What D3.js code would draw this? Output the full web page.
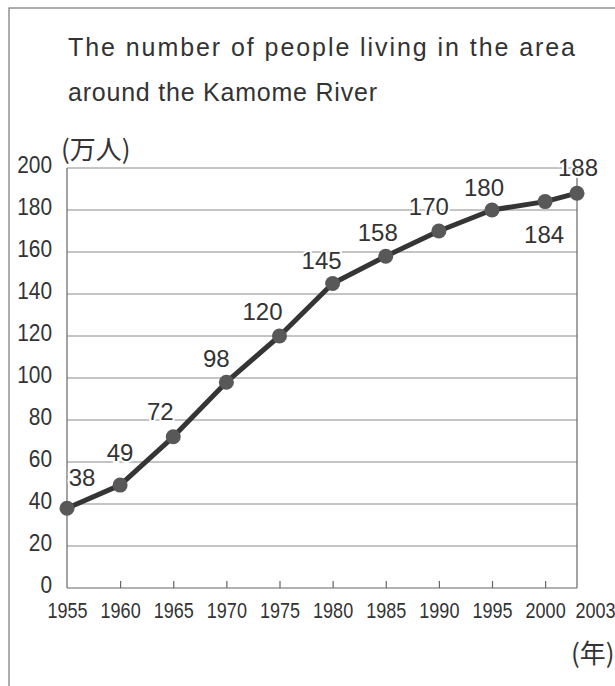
<!DOCTYPE html>
<html>
<head>
<meta charset="utf-8">
<script src="https://cdn.jsdelivr.net/npm/d3@7"></script>
<style>
  body { margin: 0; background: #fff; }
  svg { display: block; }
  text { fill: #333; font-family: "Liberation Sans", Arial, sans-serif; }
</style>
</head>
<body>
<svg class="main" width="615" height="686"></svg>
<script>
'use strict';

// data
var years = [1955, 1960, 1965, 1970, 1975, 1980, 1985, 1990, 1995, 2000, 2003];
var population = [38, 49, 72, 98, 120, 145, 158, 170, 180, 184, 188];
var yTicks = [0, 20, 40, 60, 80, 100, 120, 140, 160, 180, 200];
var titleLines = ['The number of people living in the area', 'around the Kamome River'];

// layout bits
var titleWidths = [507, 309];
var labelShift = [[15, -31], [0, -33], [-13, -25], [-10, -24], [-17, -25], [-11, -23],
                  [-8, -24], [-10, -25], [-8, -23], [-1, 33], [1, -26]];

var svg = d3.select('svg.main');

var x = d3.scaleLinear().domain([1955, 2003]).range([67, 577]);
var y = d3.scaleLinear().domain([0, 200]).range([588, 168]);

// outer frame
svg.append('rect')
    .attr('x', 9).attr('y', 8)
    .attr('width', 620).attr('height', 700)
    .attr('fill', 'none')
    .attr('stroke', '#777')
    .attr('stroke-width', 1.2);

// title
svg.selectAll('.title')
    .data(titleLines)
    .enter()
    .append('text')
    .attr('class', 'title')
    .attr('x', 68)
    .attr('y', function (d, i) { return 56 + i * 45; })
    .attr('textLength', function (d, i) { return titleWidths[i]; })
    .attr('lengthAdjust', 'spacing')
    .style('font-size', '25px')
    .text(function (d) { return d; });

// gridlines
svg.append('g')
    .selectAll('line')
    .data(yTicks.slice(1))
    .enter()
    .append('line')
    .attr('x1', x(1955)).attr('x2', x(2003))
    .attr('y1', function (d) { return y(d); })
    .attr('y2', function (d) { return y(d); })
    .attr('stroke', '#8a8a8a')
    .attr('stroke-width', 1);

// plot edges
[[1955, 1955, 200, 0], [2003, 2003, 200, 0], [1955, 2003, 0, 0]].forEach(function (e) {
    svg.append('line')
        .attr('x1', x(e[0])).attr('x2', x(e[1]))
        .attr('y1', y(e[2])).attr('y2', y(e[3]))
        .attr('stroke', '#666').attr('stroke-width', 1.2);
});

// x axis: inward ticks at the inner years, labels for all
var xAxis = d3.axisBottom(x)
    .tickValues(years)
    .tickFormat(d3.format('d'))
    .tickSizeInner(-7)
    .tickSizeOuter(0)
    .tickPadding(14);

var gx = svg.append('g')
    .attr('transform', 'translate(0,' + y(0) + ')')
    .call(xAxis);
gx.select('.domain').remove();
gx.selectAll('.tick line')
    .attr('stroke', '#666')
    .attr('stroke-width', 1.2)
    .attr('display', function (d) { return (d === 1955 || d === 2003) ? 'none' : null; });
gx.selectAll('.tick text')
    .attr('fill', '#333')
    .attr('x', function (d) { return d === 2003 ? 22 : 0; })
    .attr('y', 14)
    .attr('dy', '0.71em')
    .attr('transform', 'scale(0.82,1)')
    .style('font-family', '"Liberation Sans", Arial, sans-serif')
    .style('font-size', '22px');

// y axis labels
var gy = svg.append('g')
    .attr('transform', 'translate(' + x(1955) + ',0)')
    .call(d3.axisLeft(y).tickValues(yTicks).tickSize(0).tickPadding(15));
gy.select('.domain').remove();
gy.selectAll('.tick text')
    .attr('fill', '#333')
    .attr('x', -15 / 0.87)
    .attr('dy', '0.2em')
    .attr('transform', 'scale(0.87,1)')
    .style('font-family', '"Liberation Sans", Arial, sans-serif')
    .style('font-size', '24px');

// unit labels
svg.append('text')
    .attr('x', 61).attr('y', 159)
    .style('font-family', '"Noto Sans CJK JP", sans-serif')
    .style('font-size', '26px')
    .text('(万人)');

svg.append('text')
    .attr('x', 571).attr('y', 663)
    .style('font-family', '"Noto Sans CJK JP", sans-serif')
    .style('font-size', '26px')
    .text('(年)');

// line
var line = d3.line()
    .x(function (d, i) { return x(years[i]); })
    .y(function (d) { return y(d); });

svg.append('path')
    .datum(population)
    .attr('d', line)
    .attr('fill', 'none')
    .attr('stroke', '#353535')
    .attr('stroke-width', 5)
    .attr('stroke-linejoin', 'round');

svg.selectAll('.dot')
    .data(population)
    .enter()
    .append('circle')
    .attr('class', 'dot')
    .attr('cx', function (d, i) { return x(years[i]); })
    .attr('cy', function (d) { return y(d); })
    .attr('r', 7.5)
    .attr('fill', '#585858');

// value labels with white halo so the grid breaks around them
svg.selectAll('.val')
    .data(population)
    .enter()
    .append('text')
    .attr('class', 'val')
    .attr('x', function (d, i) { return x(years[i]) + labelShift[i][0]; })
    .attr('y', function (d, i) { return y(d) + labelShift[i][1]; })
    .attr('text-anchor', 'middle')
    .attr('dy', '0.36em')
    .style('font-size', '24px')
    .style('paint-order', 'stroke')
    .style('stroke', '#fff')
    .style('stroke-width', '4px')
    .text(function (d) { return d; });
</script>
</body>
</html>
